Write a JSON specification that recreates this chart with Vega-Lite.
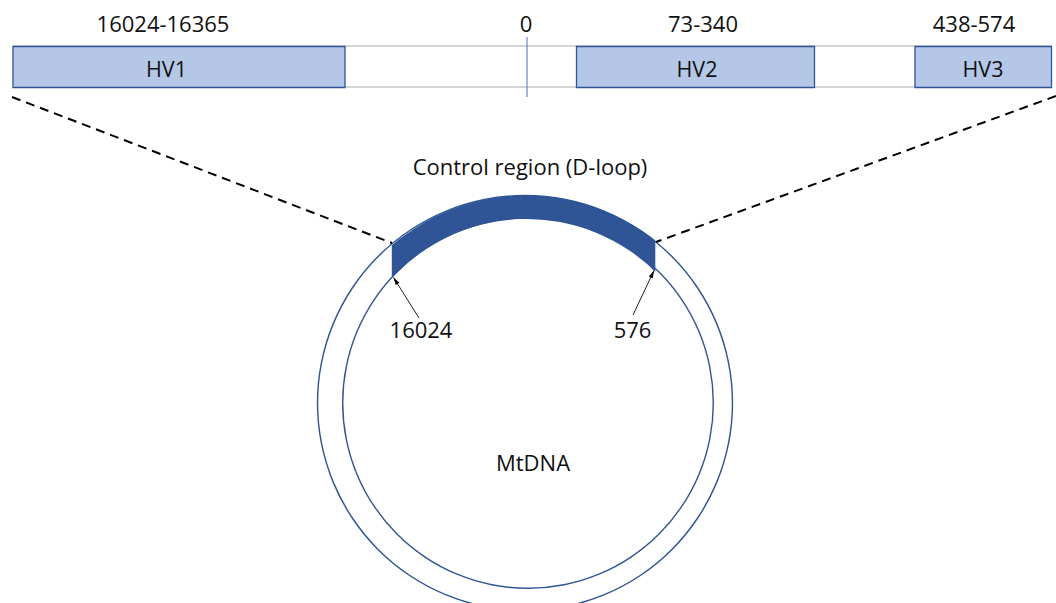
{
  "$schema": "https://vega.github.io/schema/vega-lite/v6.json",
  "width": 1056,
  "height": 603,
  "autosize": "none",
  "padding": 0,
  "background": "white",
  "config": {"view": {"stroke": null}, "font": "Open Sans"},
  "datasets": {
    "strip": [
      {"x": 13, "x2": 1052, "y": 46},
      {"x": 13, "x2": 1052, "y": 87}
    ],
    "regions": [
      {"name": "HV1", "range": "16024-16365", "x": 13, "x2": 345, "labelX": 166.5, "rangeX": 163},
      {"name": "HV2", "range": "73-340", "x": 576.5, "x2": 814.5, "labelX": 697, "rangeX": 703},
      {"name": "HV3", "range": "438-574", "x": 915, "x2": 1051.5, "labelX": 983, "rangeX": 974}
    ],
    "origin": [{"x": 527, "y": 37, "y2": 97, "label": "0", "labelX": 526}],
    "zoomLines": [
      {"x": 12, "y": 97, "x2": 392, "y2": 243},
      {"x": 1056, "y": 96, "x2": 656, "y2": 242}
    ],
    "arrows": [
      {"label": "16024", "x": 419, "y": 318, "x2": 393.5, "y2": 277.5, "heading": 327.6, "labelX": 421},
      {"label": "576", "x": 633, "y": 315, "x2": 654, "y2": 270.5, "heading": 25, "labelX": 632.5}
    ],
    "captions": [
      {"text": "Control region (D-loop)", "x": 530, "y": 175},
      {"text": "MtDNA", "x": 533, "y": 471}
    ],
    "masks": [
      {"x": 290, "x2": 391.8, "y": 180, "y2": 295},
      {"x": 655.3, "x2": 770, "y": 180, "y2": 295}
    ]
  },
  "layer": [
    {
      "data": {"name": "strip"},
      "mark": {"type": "rule", "color": "#C6C6C6", "strokeWidth": 1.5},
      "encoding": {
        "x": {"field": "x", "type": "quantitative", "scale": {"domain": [0, 1056], "nice": false, "zero": false}, "axis": null},
        "x2": {"field": "x2"},
        "y": {"field": "y", "type": "quantitative", "scale": {"domain": [0, 603], "reverse": true, "nice": false, "zero": false}, "axis": null}
      }
    },
    {
      "data": {"name": "regions"},
      "mark": {"type": "rect", "fill": "#B4C7E7", "stroke": "#2F5597", "strokeWidth": 1.3},
      "encoding": {
        "x": {"field": "x", "type": "quantitative"},
        "x2": {"field": "x2"},
        "y": {"datum": 46.5, "type": "quantitative"},
        "y2": {"datum": 87.5}
      }
    },
    {
      "data": {"name": "regions"},
      "mark": {"type": "text", "fontSize": 21.5, "baseline": "alphabetic", "align": "center", "color": "#111111"},
      "encoding": {
        "x": {"field": "labelX", "type": "quantitative"},
        "y": {"datum": 76.5, "type": "quantitative"},
        "text": {"field": "name"}
      }
    },
    {
      "data": {"name": "regions"},
      "mark": {"type": "text", "fontSize": 22, "baseline": "alphabetic", "align": "center", "color": "#111111"},
      "encoding": {
        "x": {"field": "rangeX", "type": "quantitative"},
        "y": {"datum": 31.5, "type": "quantitative"},
        "text": {"field": "range"}
      }
    },
    {
      "data": {"name": "origin"},
      "mark": {"type": "rule", "color": "#4472C4", "strokeWidth": 1},
      "encoding": {
        "x": {"field": "x", "type": "quantitative"},
        "y": {"field": "y", "type": "quantitative"},
        "y2": {"field": "y2"}
      }
    },
    {
      "data": {"name": "origin"},
      "mark": {"type": "text", "fontSize": 22, "baseline": "alphabetic", "align": "center", "color": "#111111"},
      "encoding": {
        "x": {"field": "labelX", "type": "quantitative"},
        "y": {"datum": 31.5, "type": "quantitative"},
        "text": {"field": "label"}
      }
    },
    {
      "data": {"values": [{"region": "control", "cx": 526.5, "cy": 403}]},
      "mark": {"type": "arc", "radius": 207.4, "radius2": 184, "theta": -0.873, "theta2": 0.803, "fill": "#2F5597"},
      "encoding": {
        "x": {"field": "cx", "type": "quantitative"},
        "y": {"field": "cy", "type": "quantitative"}
      }
    },
    {
      "data": {"name": "masks"},
      "mark": {"type": "rect", "fill": "white"},
      "encoding": {
        "x": {"field": "x", "type": "quantitative"},
        "x2": {"field": "x2"},
        "y": {"field": "y", "type": "quantitative"},
        "y2": {"field": "y2"}
      }
    },
    {
      "data": {"values": [{"ring": "outer", "cx": 525, "cy": 403}]},
      "mark": {"type": "arc", "radius": 208.2, "radius2": 206.7, "theta": 0, "theta2": 6.2832, "fill": "#2F5597"},
      "encoding": {
        "x": {"field": "cx", "type": "quantitative"},
        "y": {"field": "cy", "type": "quantitative"}
      }
    },
    {
      "data": {"values": [{"ring": "inner", "cx": 528, "cy": 403}]},
      "mark": {"type": "arc", "radius": 186, "radius2": 184.6, "theta": 0, "theta2": 6.2832, "fill": "#2F5597"},
      "encoding": {
        "x": {"field": "cx", "type": "quantitative"},
        "y": {"field": "cy", "type": "quantitative"}
      }
    },
    {
      "data": {"name": "zoomLines"},
      "mark": {"type": "rule", "color": "#000000", "strokeWidth": 2, "strokeDash": [9, 6]},
      "encoding": {
        "x": {"field": "x", "type": "quantitative"},
        "y": {"field": "y", "type": "quantitative"},
        "x2": {"field": "x2"},
        "y2": {"field": "y2"}
      }
    },
    {
      "data": {"name": "arrows"},
      "mark": {"type": "rule", "color": "#222222", "strokeWidth": 1},
      "encoding": {
        "x": {"field": "x", "type": "quantitative"},
        "y": {"field": "y", "type": "quantitative"},
        "x2": {"field": "x2"},
        "y2": {"field": "y2"}
      }
    },
    {
      "data": {"name": "arrows"},
      "mark": {"type": "point", "shape": "M0,0L-0.55,1.9L0.55,1.9Z", "filled": true, "color": "#000000", "size": 64, "opacity": 1},
      "encoding": {
        "x": {"field": "x2", "type": "quantitative"},
        "y": {"field": "y2", "type": "quantitative"},
        "angle": {"field": "heading", "type": "quantitative", "scale": null}
      }
    },
    {
      "data": {"name": "arrows"},
      "mark": {"type": "text", "fontSize": 22, "baseline": "alphabetic", "align": "center", "color": "#111111"},
      "encoding": {
        "x": {"field": "labelX", "type": "quantitative"},
        "y": {"datum": 338, "type": "quantitative"},
        "text": {"field": "label"}
      }
    },
    {
      "data": {"name": "captions"},
      "mark": {"type": "text", "fontSize": 22, "baseline": "alphabetic", "align": "center", "color": "#111111"},
      "encoding": {
        "x": {"field": "x", "type": "quantitative"},
        "y": {"field": "y", "type": "quantitative"},
        "text": {"field": "text"}
      }
    }
  ]
}
